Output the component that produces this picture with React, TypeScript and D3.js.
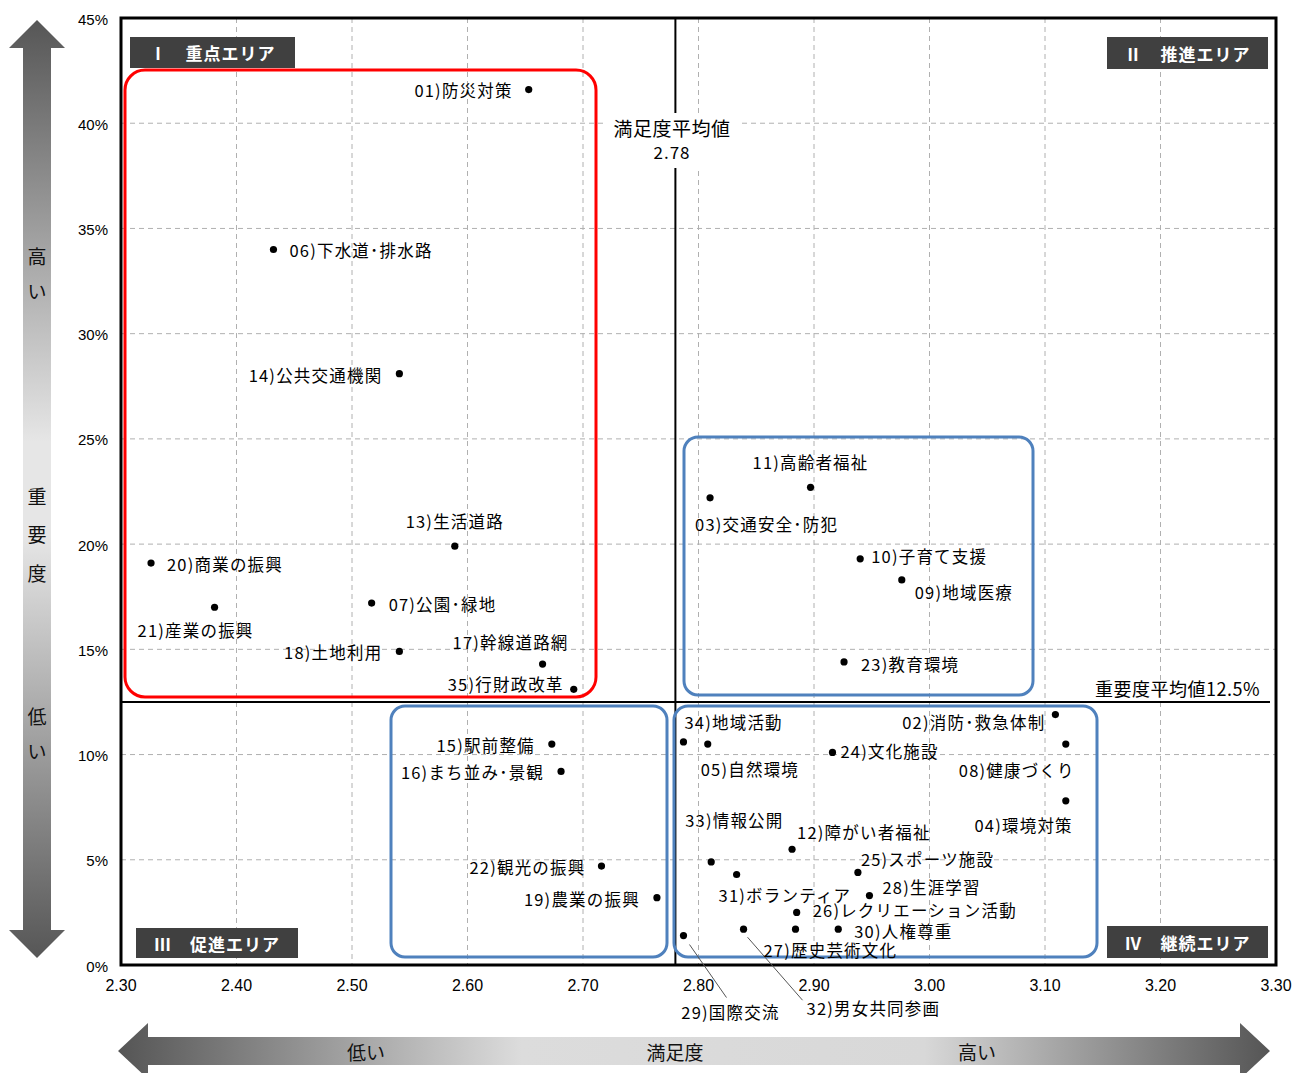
import React from "react";
import * as d3 from "d3";

// ---- data ----
const codes = ["01","02","03","04","05","06","07","08","09","10","11","12","13","14","15","16","17","18","19","20","21","22","23","24","25","26","27","28","29","30","31","32","33","34","35"];
const names = ["防災対策","消防･救急体制","交通安全･防犯","環境対策","自然環境","下水道･排水路","公園･緑地","健康づくり","地域医療","子育て支援","高齢者福祉","障がい者福祉","生活道路","公共交通機関","駅前整備","まち並み･景観","幹線道路網","土地利用","農業の振興","商業の振興","産業の振興","観光の振興","教育環境","文化施設","スポーツ施設","レクリエーション活動","歴史芸術文化","生涯学習","国際交流","人権尊重","ボランティア","男女共同参画","情報公開","地域活動","行財政改革"];
const satisfaction = [2.653,3.109,2.810,3.118,2.808,2.432,2.517,3.118,2.976,2.940,2.897,2.881,2.589,2.541,2.673,2.681,2.665,2.541,2.764,2.326,2.381,2.716,2.926,2.916,2.938,2.885,2.884,2.948,2.787,2.921,2.833,2.839,2.811,2.787,2.692];
const importance = [41.6,11.9,22.2,7.8,10.5,34.0,17.2,10.5,18.3,19.3,22.7,5.5,19.9,28.1,10.5,9.2,14.3,14.9,3.2,19.1,17.0,4.7,14.4,10.1,4.4,2.5,1.7,3.3,1.4,1.7,4.3,1.7,4.9,10.6,13.1];
const xTicks = [2.3,2.4,2.5,2.6,2.7,2.8,2.9,3.0,3.1,3.2,3.3];
const yTicks = [0,5,10,15,20,25,30,35,40,45];
const meanSatisfaction = 2.78;
const meanImportance = 12.5;
const quadrantLabels = ["Ⅰ　重点エリア","Ⅱ　推進エリア","Ⅲ　促進エリア","Ⅳ　継続エリア"];

// ---- layout (label placement relative to each point) ----
type Lab = [string, number, number];
const labelLayout: Lab[] = [
  ["end",-16,0],["end",-10,7],["start",-15,26],["end",7,24],["start",-7,25],
  ["start",16,1],["start",17,1],["end",9,26],["start",13,12],["start",11,-3],
  ["middle",0,-25],["start",5,-17],["middle",0,-25],["end",-17,1],["end",-17,1],
  ["end",-17,1],["middle",-32,-22],["end",-17,1],["end",-17,1],["start",16,1],
  ["middle",-19,23],["end",-16,1],["start",17,2],["start",8,-1],["start",3,-13],
  ["start",16,-2],["start",-32,21],["start",13,-9],["middle",47,76],["start",16,2],
  ["start",-18,20],["start",63,79],["start",-26,-42],["start",1,-20],["end",-10,-5],
];
const leaders: Record<string, [number, number, number, number]> = {
  "29": [6, 9, 43, 62],
  "32": [4, 8, 59, 71],
};

const W = 1299, H = 1073;
const L = 121, R = 1276, T = 18, B = 965;
const JP = "'Noto Sans CJK JP', 'Noto Sans', sans-serif";
const NUM = "'Liberation Sans Narrow', 'Liberation Sans', Arial, sans-serif";

export default function App() {
  const x = d3.scaleLinear().domain([2.3, 3.3]).range([L, R]);
  const y = d3.scaleLinear().domain([0, 45]).range([B, T]);
  const mx = x(meanSatisfaction);
  const my = y(meanImportance);

  const qBoxes = [
    { x: 130, y: 37, w: 165, h: 31 },
    { x: 1107, y: 37, w: 161, h: 32 },
    { x: 136, y: 928, w: 162, h: 30 },
    { x: 1107, y: 926, w: 161, h: 32 },
  ];

  const yArrow = d3.path();
  yArrow.moveTo(37, 20); yArrow.lineTo(65, 48); yArrow.lineTo(51, 48); yArrow.lineTo(51, 930);
  yArrow.lineTo(65, 930); yArrow.lineTo(37, 958); yArrow.lineTo(9, 930); yArrow.lineTo(23, 930);
  yArrow.lineTo(23, 48); yArrow.lineTo(9, 48); yArrow.closePath();

  const cy = 1051;
  const xArrow = d3.path();
  xArrow.moveTo(118, cy); xArrow.lineTo(148, cy - 28); xArrow.lineTo(148, cy - 14); xArrow.lineTo(1240, cy - 14);
  xArrow.lineTo(1240, cy - 28); xArrow.lineTo(1270, cy); xArrow.lineTo(1240, cy + 28); xArrow.lineTo(1240, cy + 14);
  xArrow.lineTo(148, cy + 14); xArrow.lineTo(148, cy + 28); xArrow.closePath();

  return (
    <svg width={W} height={H} style={{ position: "absolute", left: 0, top: 0, background: "#fff" }}>
      <defs>
        <linearGradient id="gy" x1="0" y1="0" x2="0" y2="1">
          <stop offset="0" stopColor="#565656" />
          <stop offset="0.45" stopColor="#e6e6e6" />
          <stop offset="0.55" stopColor="#e6e6e6" />
          <stop offset="1" stopColor="#565656" />
        </linearGradient>
        <linearGradient id="gx" x1="0" y1="0" x2="1" y2="0">
          <stop offset="0" stopColor="#555" />
          <stop offset="0.35" stopColor="#dcdcdc" />
          <stop offset="0.7" stopColor="#d8d8d8" />
          <stop offset="1" stopColor="#555" />
        </linearGradient>
      </defs>

      {/* arrows */}
      <path d={yArrow.toString()} fill="url(#gy)" />
      {[["高",255],["い",290],["重",495],["要",533],["度",572],["低",715],["い",750]].map(([t, yy], i) => (
        <text key={i} x={37} y={yy as number} textAnchor="middle" dominantBaseline="central" fontFamily={JP} fontSize={19} fill="#111">{t}</text>
      ))}
      <path d={xArrow.toString()} fill="url(#gx)" />
      {[["低い",366],["満足度",675],["高い",977]].map(([t, xx], i) => (
        <text key={i} x={xx as number} y={cy} textAnchor="middle" dominantBaseline="central" fontFamily={JP} fontSize={19} fill="#111">{t}</text>
      ))}

      {/* grid */}
      {xTicks.slice(1, -1).map((t) => (
        <line key={"gx" + t} x1={x(t)} x2={x(t)} y1={T} y2={B} stroke="#b0b0b0" strokeDasharray="5,4" strokeWidth={1} />
      ))}
      {yTicks.slice(1, -1).map((t) => (
        <line key={"gy" + t} x1={L} x2={R} y1={y(t)} y2={y(t)} stroke="#b0b0b0" strokeDasharray="5,4" strokeWidth={1} />
      ))}

      {/* tick labels */}
      {xTicks.map((t) => (
        <text key={"xt" + t} x={x(t)} y={985} textAnchor="middle" dominantBaseline="central" fontFamily={NUM} fontSize={16} fill="#000">{t.toFixed(2)}</text>
      ))}
      {yTicks.map((t) => (
        <text key={"yt" + t} x={108} y={y(t) + 1} textAnchor="end" dominantBaseline="central" fontFamily={NUM} fontSize={15} fill="#000">{t + "%"}</text>
      ))}

      {/* mean lines */}
      <line x1={mx} x2={mx} y1={T} y2={B} stroke="#000" strokeWidth={2} />
      <line x1={L} x2={1270} y1={my} y2={my} stroke="#000" strokeWidth={2} />
      <rect x={605} y={113} width={135} height={55} fill="#fff" />
      <text x={672} y={127} textAnchor="middle" dominantBaseline="central" fontFamily={JP} fontSize={19} letterSpacing={0.5} fill="#000">満足度平均値</text>
      <text x={672} y={151} textAnchor="middle" dominantBaseline="central" fontFamily={JP} fontSize={17} letterSpacing={1} fill="#000">{meanSatisfaction.toFixed(2)}</text>
      <text x={1260} y={688} textAnchor="end" dominantBaseline="central" fontFamily={JP} fontSize={18} letterSpacing={0.5} fill="#000">{"重要度平均値" + meanImportance + "%"}</text>

      {/* frame */}
      <rect x={L} y={T} width={R - L} height={B - T} fill="none" stroke="#000" strokeWidth={3} />

      {/* area boxes */}
      <rect x={125} y={70} width={471} height={627} rx={20} fill="none" stroke="#ff0000" strokeWidth={3} />
      <rect x={684} y={437} width={349} height={258} rx={14} fill="none" stroke="#4f81bd" strokeWidth={3} />
      <rect x={391} y={706} width={276} height={251} rx={14} fill="none" stroke="#4f81bd" strokeWidth={3} />
      <rect x={674} y={706} width={423} height={251} rx={14} fill="none" stroke="#4f81bd" strokeWidth={3} />

      {/* quadrant labels */}
      {qBoxes.map((b, i) => (
        <g key={"q" + i}>
          <rect x={b.x} y={b.y} width={b.w} height={b.h} fill="#404040" />
          <text x={b.x + b.w / 2} y={b.y + b.h / 2} textAnchor="middle" dominantBaseline="central" fontFamily={JP} fontSize={17} fontWeight="bold" fill="#fff" letterSpacing={1}>{quadrantLabels[i]}</text>
        </g>
      ))}

      {/* leaders */}
      {codes.map((c, i) => {
        const ld = leaders[c];
        if (!ld) return null;
        const px = x(satisfaction[i]), py = y(importance[i]);
        return <line key={"ld" + c} x1={px + ld[0]} y1={py + ld[1]} x2={px + ld[2]} y2={py + ld[3]} stroke="#555" strokeWidth={1} />;
      })}

      {/* points and labels */}
      {codes.map((c, i) => {
        const px = x(satisfaction[i]), py = y(importance[i]);
        const [anchor, dx, dy] = labelLayout[i];
        return (
          <g key={"p" + c}>
            <circle cx={px} cy={py} r={3.6} fill="#000" />
            <text x={px + dx} y={py + dy} textAnchor={anchor as any} dominantBaseline="central" fontFamily={JP} fontSize={16.5} letterSpacing={1.2} fill="#000">{c + ")" + names[i]}</text>
          </g>
        );
      })}
    </svg>
  );
}
